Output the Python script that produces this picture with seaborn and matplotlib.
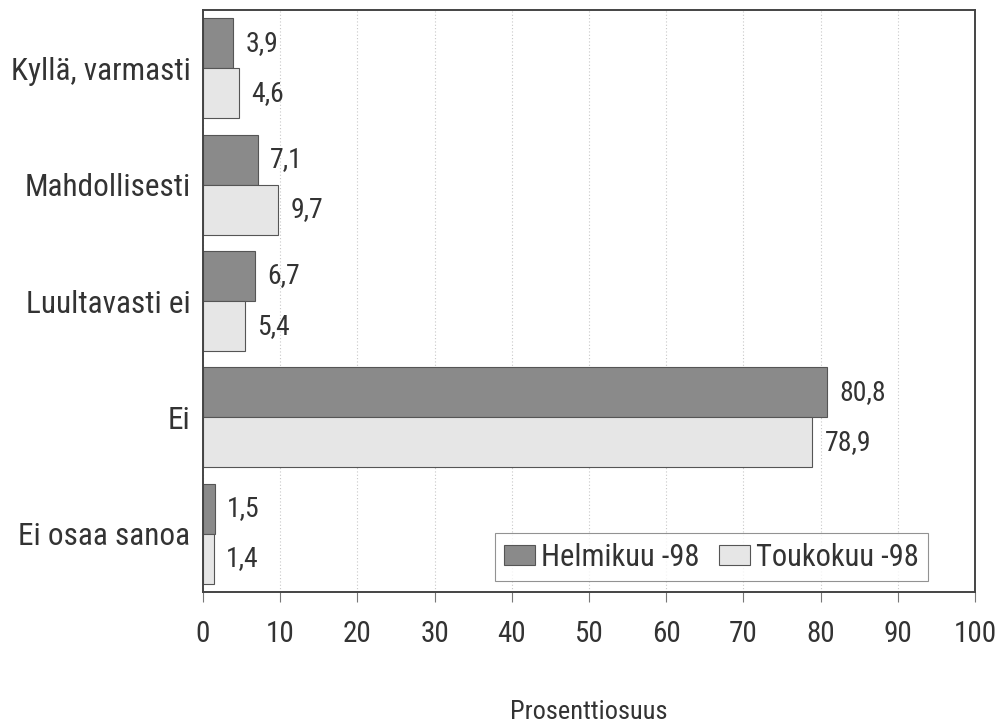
import pandas as pd
import seaborn as sns
import matplotlib.pyplot as plt

categories = ["Kyllä, varmasti", "Mahdollisesti", "Luultavasti ei", "Ei", "Ei osaa sanoa"]
helmikuu = [3.9, 7.1, 6.7, 80.8, 1.5]
toukokuu = [4.6, 9.7, 5.4, 78.9, 1.4]
series = ["Helmikuu -98", "Toukokuu -98"]

df = pd.DataFrame({
    "kategoria": categories * 2,
    "arvo": helmikuu + toukokuu,
    "sarja": [series[0]] * 5 + [series[1]] * 5,
})

sns.set_style("white")
plt.rcParams["font.family"] = ["Roboto Condensed", "Liberation Sans Narrow", "Roboto", "DejaVu Sans"]

fig = plt.figure(figsize=(9.98, 7.28), dpi=100)
ax = fig.add_axes([0.2034, 0.187, 0.7736, 0.799])

sns.barplot(data=df, y="kategoria", x="arvo", hue="sarja", orient="h",
            palette=["#8a8a8a", "#e6e6e6"], width=0.86, edgecolor="#555555",
            linewidth=0.8, ax=ax, zorder=2)

# value labels with decimal comma
for cont in ax.containers:
    labs = [f"{b.get_width():.1f}".replace(".", ",") for b in cont]
    ax.bar_label(cont, labels=labs, padding=9, fontsize=20, color="#333333")

ax.set_xlim(0, 100)
ax.set_xticks(range(0, 101, 10))
ax.grid(axis="x", linestyle=(0, (1, 2)), color="#c8c8c8", linewidth=0.8, zorder=0)
ax.set_axisbelow(True)

ax.tick_params(axis="x", length=7, width=0.8, color="#777777", labelsize=21,
               labelcolor="#333333", pad=13, direction="out", bottom=True)
ax.tick_params(axis="y", length=0, labelsize=22.5, labelcolor="#333333", pad=9)
for s in ax.spines.values():
    s.set_visible(True)
    s.set_color("#444444")
    s.set_linewidth(1.4)

ax.set_ylabel("")
ax.set_xlabel("Prosenttiosuus", fontsize=19, color="#333333", labelpad=38)

leg = ax.legend(loc="lower left", ncol=2, fontsize=22, frameon=True, fancybox=False,
                edgecolor="#777777", handlelength=1.0, handleheight=0.6,
                handletextpad=0.2, columnspacing=0.65, borderpad=0.3,
                borderaxespad=0, bbox_to_anchor=(0.378, 0.019))
leg.get_frame().set_linewidth(0.8)
for t in leg.get_texts():
    t.set_color("#333333")

fig.savefig("out.png", dpi=100)
